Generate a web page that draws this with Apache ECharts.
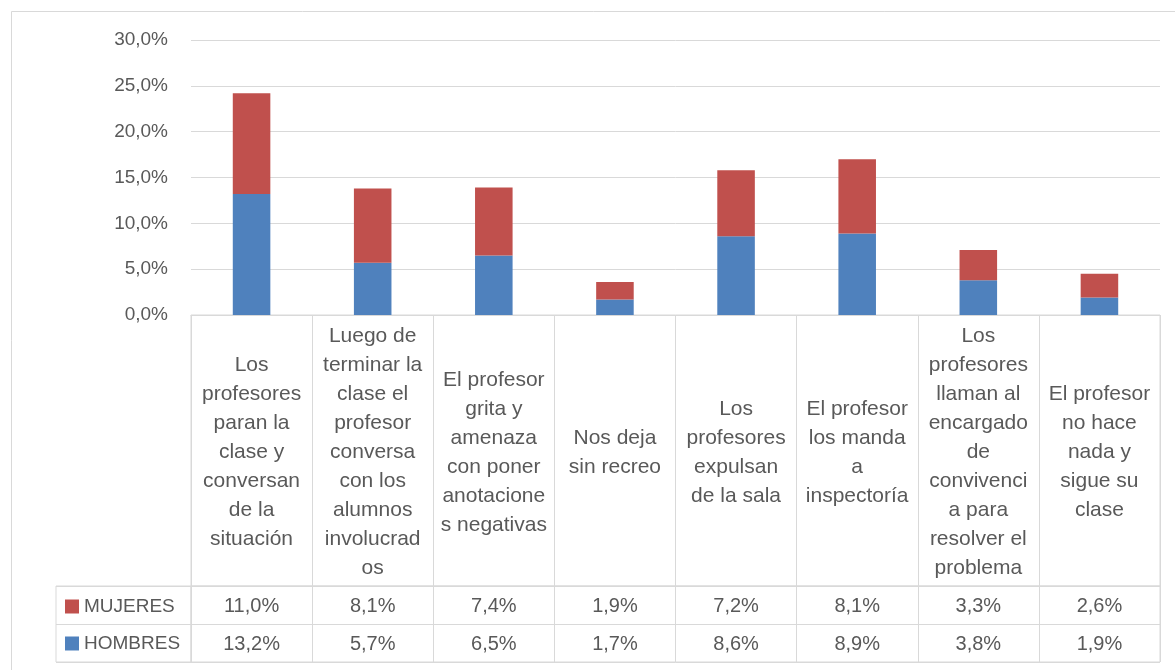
<!DOCTYPE html>
<html>
<head>
<meta charset="utf-8">
<script src="https://cdn.jsdelivr.net/npm/echarts@6/dist/echarts.min.js"></script>
<style>
	html, body { margin: 0; padding: 0; background: #fff; }
	#chart { width: 1175px; height: 670px; }
</style>
</head>
<body>
<div id="chart"></div>
<script>
// categorias (con los saltos de linea del original)
var categorias = [
	'Los\nprofesores\nparan la\nclase y\nconversan\nde la\nsituación',
	'Luego de\nterminar la\nclase el\nprofesor\nconversa\ncon los\nalumnos\ninvolucrad\nos',
	'El profesor\ngrita y\namenaza\ncon poner\nanotacione\ns negativas',
	'Nos deja\nsin recreo',
	'Los\nprofesores\nexpulsan\nde la sala',
	'El profesor\nlos manda\na\ninspectoría',
	'Los\nprofesores\nllaman al\nencargado\nde\nconvivenci\na para\nresolver el\nproblema',
	'El profesor\nno hace\nnada y\nsigue su\nclase'
];
var filas = ['MUJERES', 'HOMBRES'];
var mujeres = [11.0, 8.1, 7.4, 1.9, 7.2, 8.1, 3.3, 2.6];
var hombres = [13.2, 5.7, 6.5, 1.7, 8.6, 8.9, 3.8, 1.9];

var colorMujeres = '#c0504d';
var colorHombres = '#4f81bd';
var gris = '#d9d9d9';
var texto = '#595959';
var fuente = '"Liberation Sans", Arial, sans-serif';

function pct(v) {
	return v.toFixed(1).replace('.', ',') + '%';
}

var ejeOculto = {
	show: true,
	axisLine: { show: false },
	axisTick: { show: false },
	axisLabel: { show: false },
	splitLine: { show: true, interval: 0, lineStyle: { color: gris, width: 1 } }
};

var chart = echarts.init(document.getElementById('chart'));

var option = {
	animation: false,
	backgroundColor: '#fff',
	textStyle: { fontFamily: fuente, color: texto },
	graphic: [{
		type: 'polyline',
		shape: { points: [[11.5, 670], [11.5, 11.5], [1175, 11.5]] },
		style: { stroke: gris, lineWidth: 1, fill: null },
		silent: true
	}],
	legend: {
		orient: 'vertical',
		left: 65,
		top: 597,
		padding: 0,
		itemWidth: 14,
		itemHeight: 14,
		itemGap: 18,
		icon: 'rect',
		data: filas,
		textStyle: { fontFamily: fuente, fontSize: 19, color: texto },
		selectedMode: false
	},
	grid: [
		// area de barras
		{ left: 191, right: 15, top: 40, height: 275 },
		// fila de categorias
		{ left: 191, right: 15, top: 315, height: 271, show: true, borderColor: gris, borderWidth: 1 },
		// filas de valores
		{ left: 191, right: 15, top: 586, height: 76, show: true, borderColor: gris, borderWidth: 1 },
		// celdas de la leyenda
		{ left: 56, width: 135, top: 586, height: 76, show: true, borderColor: gris, borderWidth: 1 }
	],
	xAxis: [
		{
			gridIndex: 0, type: 'category', data: categorias,
			axisLine: { show: true, lineStyle: { color: gris } },
			axisTick: { show: false }, axisLabel: { show: false }
		},
		Object.assign({ gridIndex: 1, type: 'category', data: categorias }, ejeOculto),
		Object.assign({ gridIndex: 2, type: 'category', data: categorias }, ejeOculto),
		{ gridIndex: 3, type: 'value', show: false }
	],
	yAxis: [
		{
			gridIndex: 0, type: 'value', min: 0, max: 30, interval: 5,
			axisLine: { show: false }, axisTick: { show: false },
			axisLabel: { formatter: pct, fontSize: 19, color: texto, margin: 23, fontFamily: fuente },
			splitLine: { lineStyle: { color: gris, width: 1 } }
		},
		{ gridIndex: 1, type: 'value', min: 0, max: 1, show: false },
		Object.assign({ gridIndex: 2, type: 'category', data: filas, inverse: true }, ejeOculto),
		Object.assign({ gridIndex: 3, type: 'category', data: filas, inverse: true }, ejeOculto)
	],
	series: [
		{
			name: 'HOMBRES', type: 'bar', stack: 'total', data: hombres,
			xAxisIndex: 0, yAxisIndex: 0, barWidth: '31%',
			itemStyle: { color: colorHombres }
		},
		{
			name: 'MUJERES', type: 'bar', stack: 'total', data: mujeres,
			xAxisIndex: 0, yAxisIndex: 0, barWidth: '31%',
			itemStyle: { color: colorMujeres }
		},
		{
			// textos de categoria dentro de la tabla
			type: 'custom', xAxisIndex: 1, yAxisIndex: 1, silent: true, clip: false,
			data: categorias.map(function (c, i) { return [i, 0.5]; }),
			renderItem: function (params, api) {
				var p = api.coord([api.value(0), api.value(1)]);
				return {
					type: 'text', x: p[0], y: p[1] + 2,
					style: {
						text: categorias[api.value(0)], fill: texto,
						fontSize: 21, fontFamily: fuente, lineHeight: 29,
						align: 'center', verticalAlign: 'middle'
					}
				};
			}
		},
		{
			// valores de la tabla
			type: 'custom', xAxisIndex: 2, yAxisIndex: 2, silent: true, clip: false,
			data: mujeres.map(function (v, i) { return [i, 0, v]; })
				.concat(hombres.map(function (v, i) { return [i, 1, v]; })),
			renderItem: function (params, api) {
				var p = api.coord([api.value(0), api.value(1)]);
				return {
					type: 'text', x: p[0], y: p[1] + 1,
					style: {
						text: pct(api.value(2)), fill: texto,
						fontSize: 20, fontFamily: fuente,
						align: 'center', verticalAlign: 'middle'
					}
				};
			}
		}
	]
};

chart.setOption(option);
</script>
</body>
</html>
